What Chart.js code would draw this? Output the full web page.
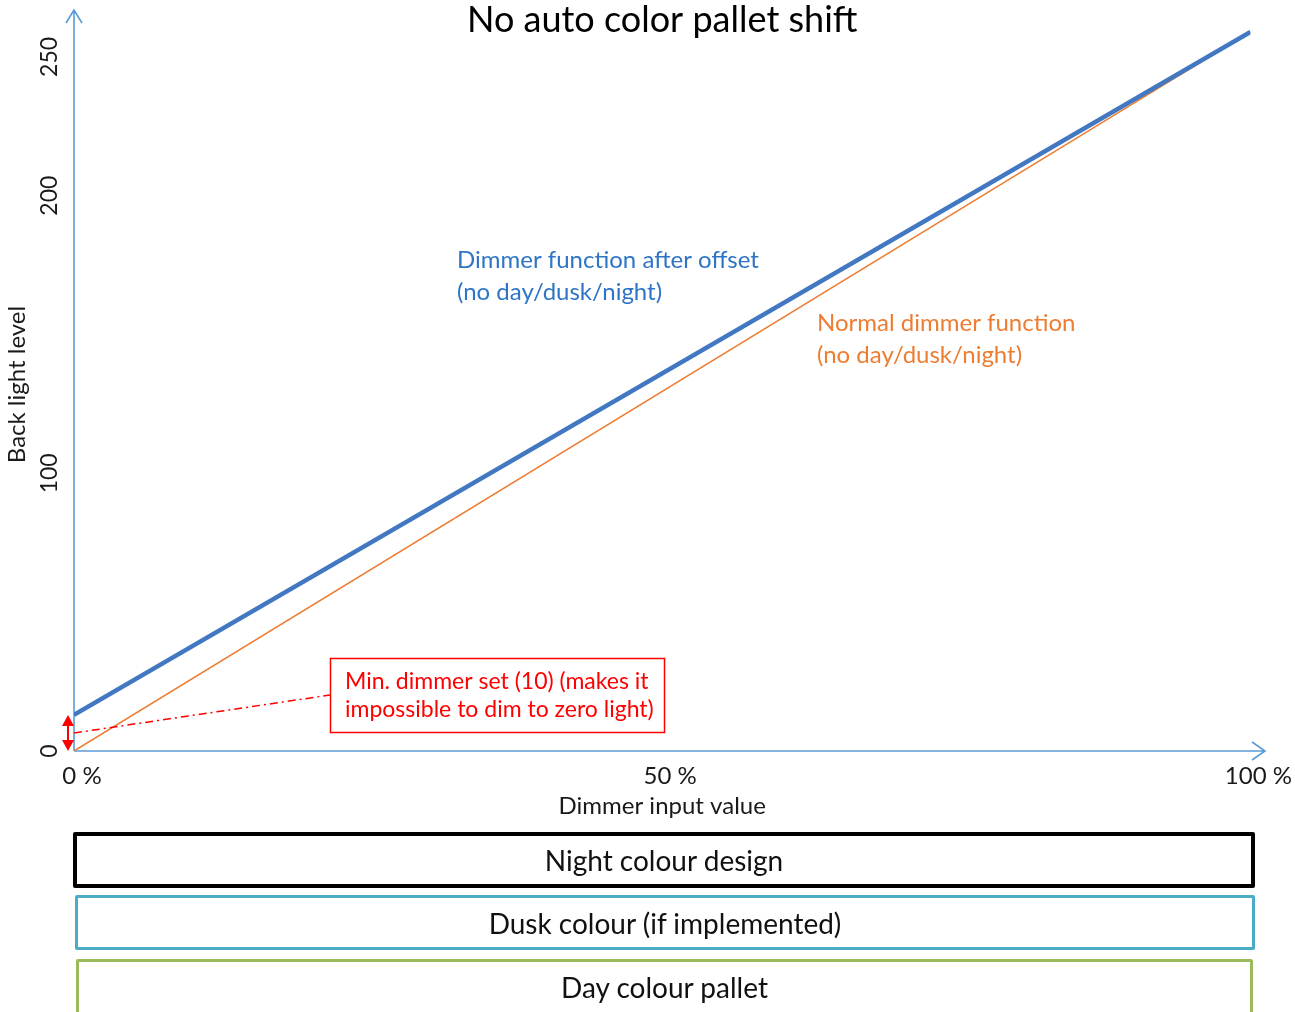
<!DOCTYPE html>
<html>
<head>
<meta charset="utf-8">
<script src="https://cdn.jsdelivr.net/npm/chart.js@4.4.1/dist/chart.umd.min.js"></script>
<style>
  html, body { margin: 0; padding: 0; background: #fff; }
  #wrap { position: relative; width: 1295px; height: 1012px; overflow: hidden; }
  #chart { position: absolute; left: 0; top: 0; }
  .band {
    position: absolute; box-sizing: border-box; border-radius: 2px;
    display: flex; align-items: center; justify-content: center;
    font-family: Lato, sans-serif; font-size: 28px; color: #111;
  }
</style>
</head>
<body>
<div id="wrap">
  <canvas id="chart" width="1295" height="1012"></canvas>
</div>
<script>
  // data
  const inputPct = [0, 100];
  const offsetLevel = [13, 259];   // dimmer function after offset
  const normalLevel = [0, 259];    // normal dimmer function
  const xTicks = [0, 50, 100];
  const yTicks = [0, 100, 200, 250];
  const minDimmer = offsetLevel[0];

  const chartTitle = "No auto color pallet shift";
  const blueNote = ["Dimmer function after offset", "(no day/dusk/night)"];
  const orangeNote = ["Normal dimmer function", "(no day/dusk/night)"];
  const redNote = ["Min. dimmer set (10) (makes it", "impossible to dim to zero light)"];
  const bandLabels = ["Night colour design", "Dusk colour (if implemented)", "Day colour pallet"];

  const colors = {
    axis: "#5B9BD5",
    blue: "#4277C2",
    blueText: "#2E75C6",
    orange: "#ED7D31",
    red: "#FF0000",
    text: "#1a1a1a",
  };

  const bandStyles = [
    { left: 73, top: 832, width: 1182, height: 56, border: "4px solid #000" },
    { left: 75, top: 895, width: 1180, height: 55, border: "3.5px solid #4BACC6" },
    { left: 76, top: 959, width: 1177, height: 62, border: "3.5px solid #9BBB59" },
  ];

  const wrap = document.getElementById("wrap");
  bandLabels.forEach((label, i) => {
    const s = bandStyles[i];
    const d = document.createElement("div");
    d.className = "band";
    d.textContent = label;
    Object.assign(d.style, {
      left: s.left + "px", top: s.top + "px",
      width: s.width + "px", height: s.height + "px", border: s.border,
    });
    if (i === 2) d.style.alignItems = "flex-start", d.style.paddingTop = "8px";
    wrap.appendChild(d);
  });

  const font = (size) => ({ family: "Lato, sans-serif", size: size });

  const sketchPlugin = {
    id: "sketch",
    beforeDatasetsDraw(chart) {
      const { ctx, scales: { x, y } } = chart;
      const x0 = x.getPixelForValue(0);
      const y0 = y.getPixelForValue(0);
      ctx.save();
      ctx.strokeStyle = colors.axis;
      ctx.lineWidth = 1.6;
      ctx.beginPath();
      // y axis with open arrow head
      ctx.moveTo(x0, y0); ctx.lineTo(x0, 10);
      ctx.moveTo(x0 - 8, 23); ctx.lineTo(x0, 10); ctx.lineTo(x0 + 8, 23);
      // x axis with open arrow head
      ctx.moveTo(x0, y0); ctx.lineTo(1265, y0);
      ctx.moveTo(1252, y0 - 9); ctx.lineTo(1265, y0); ctx.lineTo(1252, y0 + 9);
      ctx.stroke();
      ctx.restore();
    },
    afterDatasetsDraw(chart) {
      const { ctx, scales: { x, y } } = chart;
      const x0 = x.getPixelForValue(0);
      const y0 = y.getPixelForValue(0);
      const yMin = y.getPixelForValue(minDimmer);
      const yMid = y.getPixelForValue(minDimmer / 2);
      ctx.save();
      ctx.textBaseline = "middle";
      ctx.textAlign = "left";

      ctx.font = "24px Lato, sans-serif";
      ctx.fillStyle = colors.blueText;
      blueNote.forEach((t, i) => ctx.fillText(t, 457, 260 + i * 32));
      ctx.fillStyle = colors.orange;
      orangeNote.forEach((t, i) => ctx.fillText(t, 817, 323 + i * 32));

      // red note box
      ctx.strokeStyle = colors.red;
      ctx.lineWidth = 1.5;
      ctx.strokeRect(330.5, 658.5, 334, 74);
      ctx.font = "23px Lato, sans-serif";
      ctx.fillStyle = colors.red;
      redNote.forEach((t, i) => ctx.fillText(t, 345, 682 + i * 28));

      // dash-dot leader from the offset arrow to the box
      ctx.setLineDash([8, 4, 2, 4]);
      ctx.beginPath();
      ctx.moveTo(x0, yMid);
      ctx.lineTo(330, 695);
      ctx.stroke();
      ctx.setLineDash([]);

      // red double arrow showing the offset
      const ax = x0 - 6;
      ctx.lineWidth = 2;
      ctx.beginPath();
      ctx.moveTo(ax, yMin + 8); ctx.lineTo(ax, y0 - 8);
      ctx.stroke();
      ctx.beginPath();
      ctx.moveTo(ax, yMin); ctx.lineTo(ax - 6, yMin + 11); ctx.lineTo(ax + 6, yMin + 11); ctx.closePath();
      ctx.moveTo(ax, y0); ctx.lineTo(ax - 6, y0 - 11); ctx.lineTo(ax + 6, y0 - 11); ctx.closePath();
      ctx.fill();
      ctx.restore();
    },
  };

  const toPoints = (ys) => inputPct.map((v, i) => ({ x: v, y: ys[i] }));

  new Chart(document.getElementById("chart"), {
    type: "line",
    data: {
      datasets: [
        {
          label: "Dimmer function after offset",
          data: toPoints(offsetLevel),
          borderColor: colors.blue,
          borderWidth: 4.5,
          pointRadius: 0,
        },
        {
          label: "Normal dimmer function",
          data: toPoints(normalLevel),
          borderColor: colors.orange,
          borderWidth: 1.5,
          pointRadius: 0,
        },
      ],
    },
    options: {
      responsive: false,
      animation: false,
      events: [],
      layout: { padding: { top: 18, right: 44, bottom: 191, left: 0 } },
      plugins: {
        legend: { display: false },
        tooltip: { enabled: false },
        title: {
          display: true,
          text: chartTitle,
          fullSize: false,
          color: "#000",
          font: { family: "Lato, sans-serif", size: 36, weight: "normal", lineHeight: 1.2 },
          padding: { top: -19.6, bottom: -23.6 },
        },
      },
      scales: {
        x: {
          type: "linear",
          min: 0,
          max: 100,
          grid: { display: false, drawTicks: false },
          border: { display: false },
          afterBuildTicks: (s) => { s.ticks = xTicks.map((v) => ({ value: v })); },
          afterFit: (s) => { s.height = 70; },
          ticks: {
            maxRotation: 0,
            padding: 11,
            labelOffset: 8,
            color: colors.text,
            font: font(24),
            callback: (v) => v + " %",
          },
          title: {
            display: true,
            text: "Dimmer input value",
            color: colors.text,
            font: font(24),
            padding: { top: 0, bottom: 0 },
          },
        },
        y: {
          type: "linear",
          min: 0,
          max: 264,
          grid: { display: false, drawTicks: false },
          border: { display: false },
          afterBuildTicks: (s) => { s.ticks = yTicks.map((v) => ({ value: v })); },
          afterFit: (s) => { s.width = 74; },
          ticks: {
            minRotation: 90,
            maxRotation: 90,
            crossAlign: "center",
            padding: 4,
            color: colors.text,
            font: font(23),
          },
          title: {
            display: true,
            text: "Back light level",
            color: colors.text,
            font: font(24),
            padding: { top: 3, bottom: 0 },
          },
        },
      },
    },
    plugins: [sketchPlugin],
  });
</script>
</body>
</html>
